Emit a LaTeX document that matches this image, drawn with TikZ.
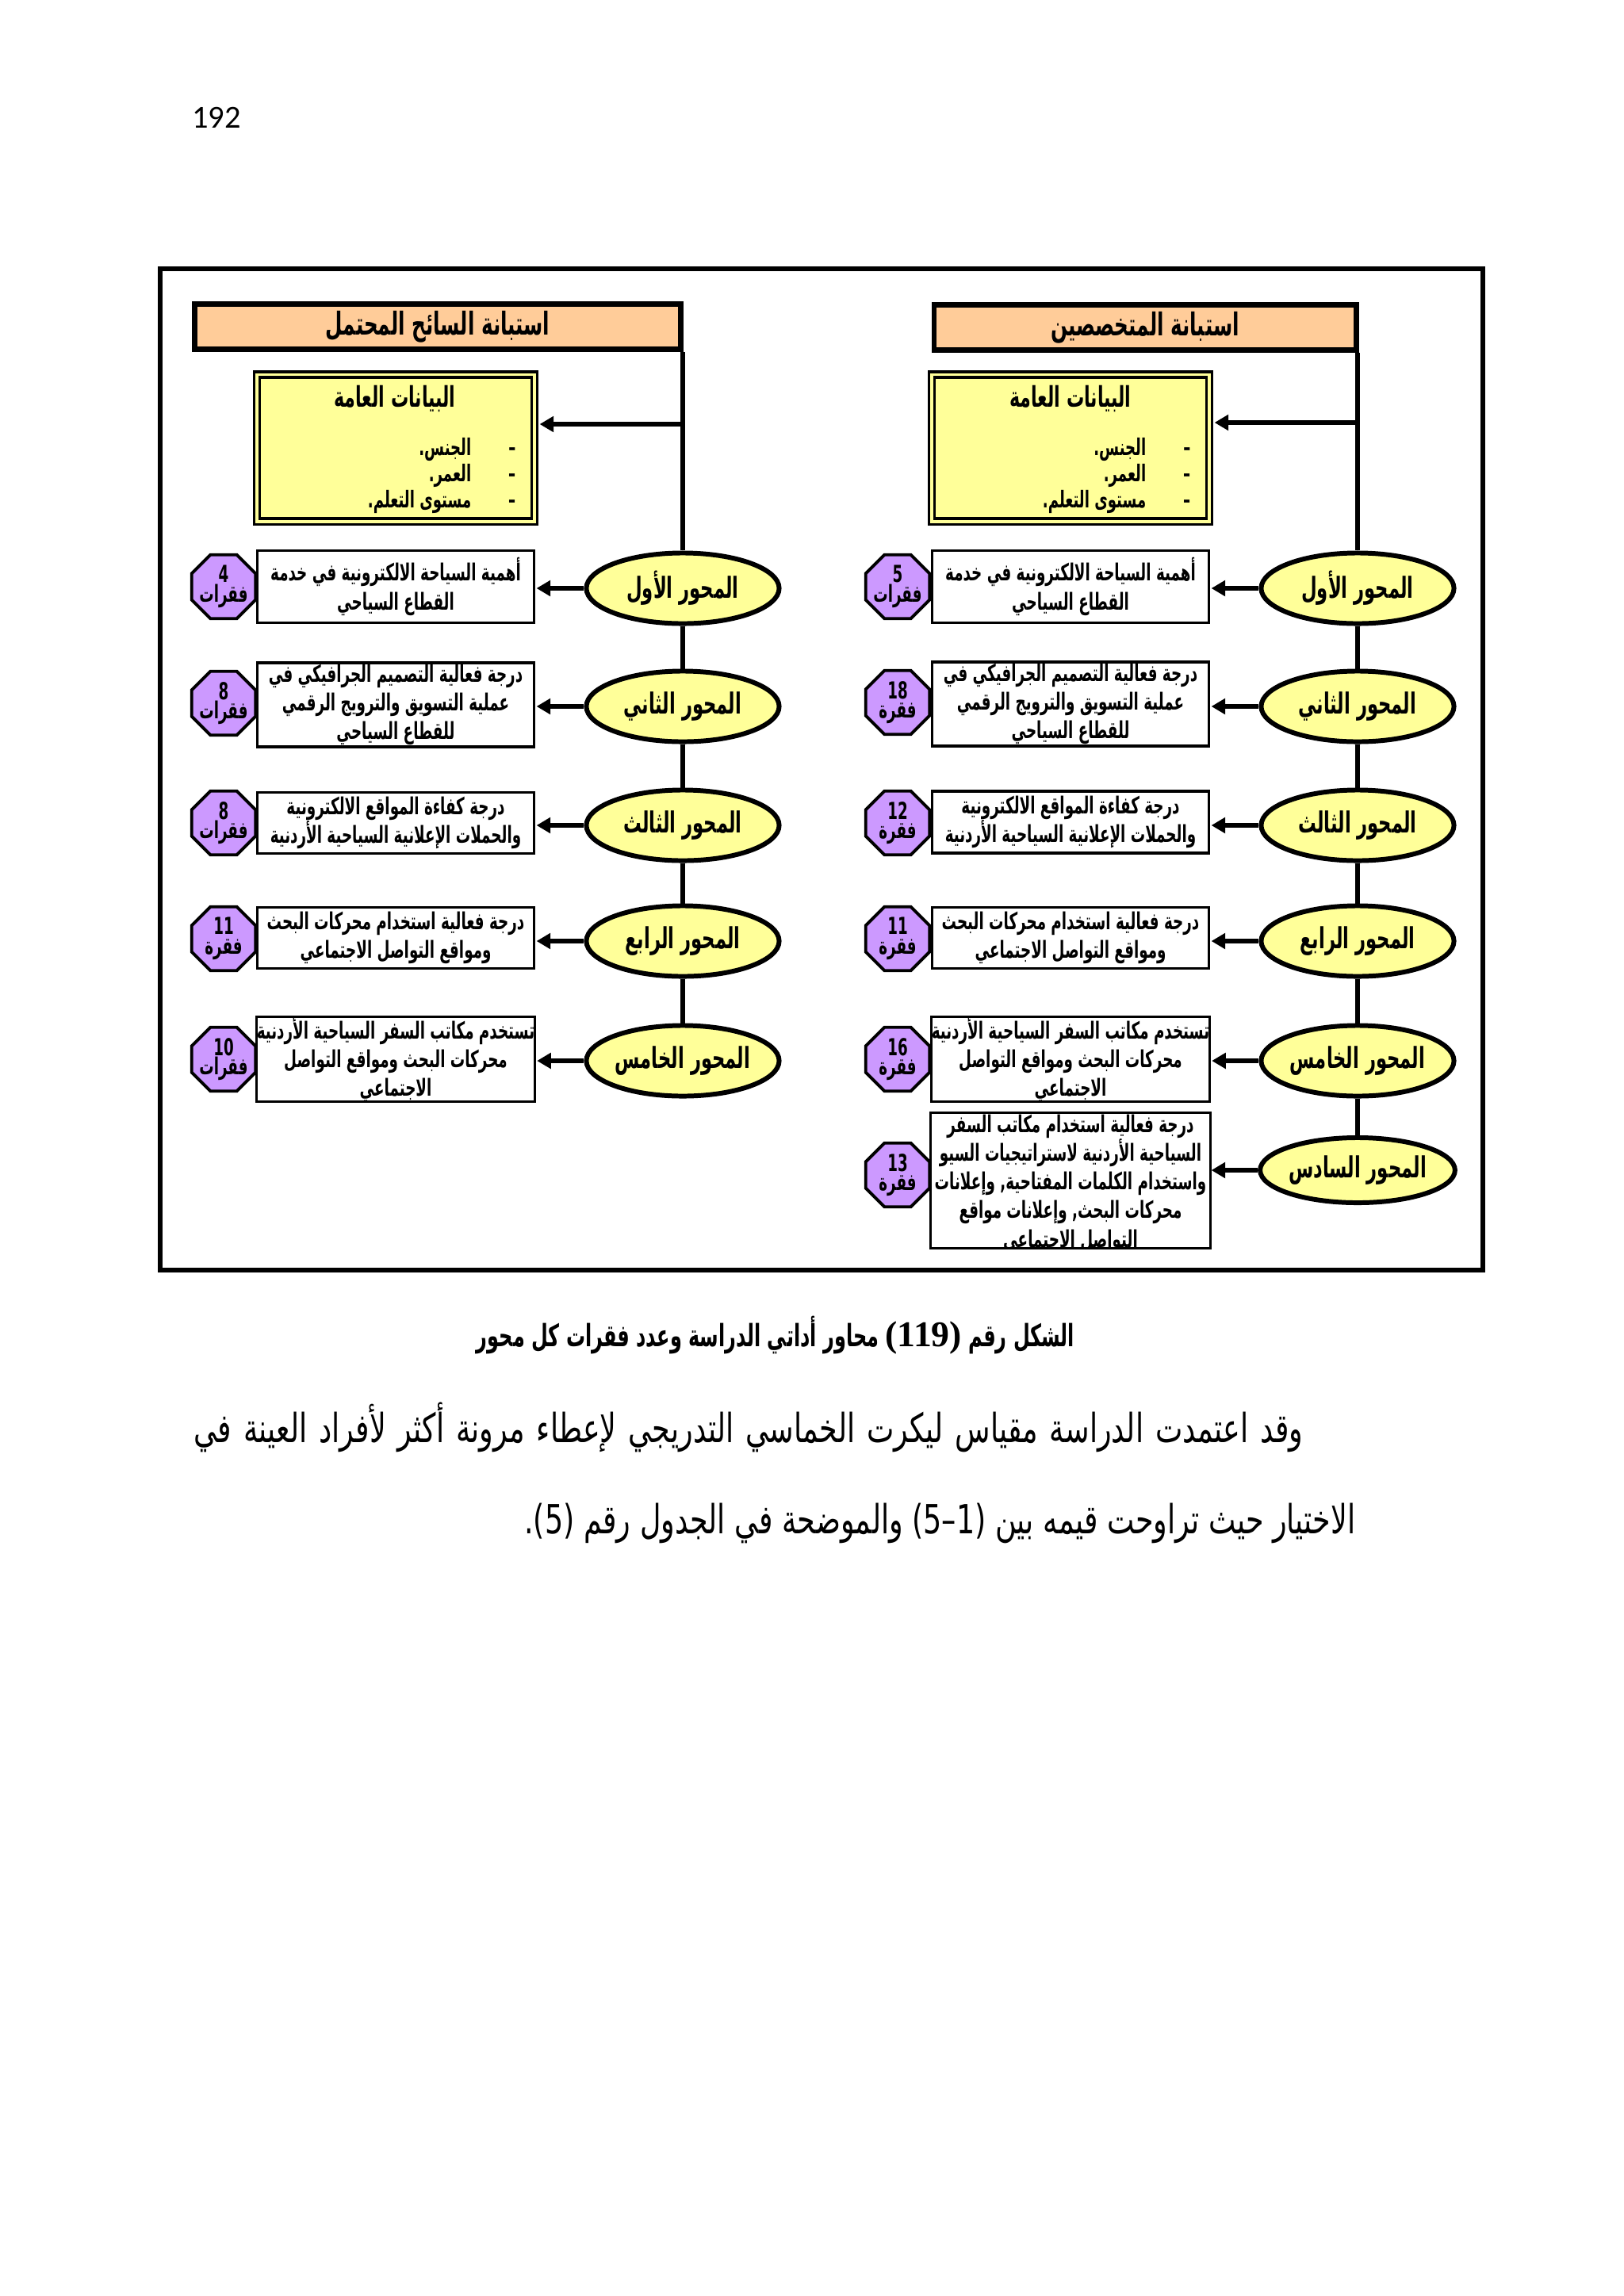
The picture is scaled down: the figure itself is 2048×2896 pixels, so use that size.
\documentclass[tikz,border=0pt]{standalone}
\usepackage{fontspec}
\usetikzlibrary{shapes.geometric,arrows.meta,positioning}
\TeXXeTstate=1
\newfontfamily\arabicfont[Script=Arabic,FakeStretch=0.72]{DejaVu Sans}
\newfontfamily\arabicnarrow[Script=Arabic,FakeStretch=0.62]{DejaVu Sans}
\newfontfamily\numfont{Liberation Serif}
\newfontfamily\pagefont{Carlito}
\newcommand{\artxt}[1]{\beginR#1\endR}

\definecolor{headpeach}{HTML}{FFCC99}
\definecolor{boxyellow}{HTML}{FFFF99}
\definecolor{octpurple}{HTML}{CC99FF}

\begin{document}
\begin{tikzpicture}[x=0.01cm, y=-0.01cm, >={Triangle[length=5pt,width=5.5pt]},
  head/.style={draw, line width=1.9pt, fill=headpeach, minimum height=0.57cm, inner sep=0pt,
    font=\arabicnarrow\bfseries\fontsize{11.3}{13}\selectfont},
  genbox/.style={draw, double=boxyellow, line width=0.9pt, double distance=1.1pt,
    fill=boxyellow, minimum width=3.5cm, minimum height=1.85cm, inner sep=0pt},
  gentitle/.style={inner sep=0pt, font=\arabicnarrow\bfseries\fontsize{10.2}{12}\selectfont},
  genitems/.style={inner sep=0pt, align=right, anchor=east,
    font=\arabicnarrow\bfseries\fontsize{8.3}{8}\selectfont},
  axisnode/.style={ellipse, draw, line width=1.7pt, fill=boxyellow, minimum width=2.43cm,
    minimum height=0.89cm, inner sep=0pt, font=\arabicnarrow\bfseries\fontsize{10.4}{12}\selectfont},
  topic/.style={draw, line width=0.9pt, fill=white, minimum width=3.49cm, inner sep=0pt,
    align=center, font=\arabicnarrow\bfseries\fontsize{8.4}{10.3}\selectfont},
  count/.style={regular polygon, regular polygon sides=8, draw, line width=1.1pt,
    fill=octpurple, minimum size=0.87cm, inner sep=-4pt, align=center,
    font=\arabicnarrow\bfseries\fontsize{8.4}{7}\selectfont},
  conn/.style={line width=1.5pt},
  arr/.style={conn, ->, shorten >=0.4pt}]

  %% Background
  \useasboundingbox (0,0) rectangle (2048,2896);
  \fill[white] (0,0) rectangle (2048,2896);

  % page number
  \node[font=\pagefont\fontsize{11.5}{13}\selectfont] (pnum) at (273,148) {192};

  % outer frame
  \draw[line width=1.7pt] (202,339) rectangle (1870,1602);

  % headers
  \node[head, minimum width=6.13cm] (hL) at (552,412) {\artxt{استبانة السائح المحتمل}};
  \node[head, minimum width=5.32cm] (hR) at (1444,413) {\artxt{استبانة المتخصصين}};

  % general data boxes
  \node[genbox] (gL) at (499,565) {};
  \node[gentitle] (gLt) at (498,503) {\artxt{البيانات العامة}};
  \node[genitems] (gLi) at (651,600) {\artxt{–\hspace{4.7mm}الجنس.}\\ \artxt{–\hspace{4.7mm}العمر.}\\ \artxt{–\hspace{4.7mm}مستوى التعلم.}};
  \node[genbox] (gR) at (1350,565) {};
  \node[gentitle] (gRt) at (1350,503) {\artxt{البيانات العامة}};
  \node[genitems] (gRi) at (1502,600) {\artxt{–\hspace{4.7mm}الجنس.}\\ \artxt{–\hspace{4.7mm}العمر.}\\ \artxt{–\hspace{4.7mm}مستوى التعلم.}};

  % left column: axes
  \node[axisnode] (eL1) at (861,742) {\artxt{المحور الأول}};
  \node[axisnode] (eL2) at (861,891) {\artxt{المحور الثاني}};
  \node[axisnode] (eL3) at (861,1041) {\artxt{المحور الثالث}};
  \node[axisnode] (eL4) at (861,1187) {\artxt{المحور الرابع}};
  \node[axisnode] (eL5) at (861,1338) {\artxt{المحور الخامس}};

  \node[topic, minimum height=0.91cm] (tL1) at (499,740) {\artxt{أهمية السياحة الالكترونية في خدمة}\\ \artxt{القطاع السياحي}};
  \node[topic, minimum height=1.06cm] (tL2) at (499,889) {\artxt{درجة فعالية التصميم الجرافيكي في}\\ \artxt{عملية التسويق والترويج الرقمي}\\ \artxt{للقطاع السياحي}};
  \node[topic, minimum height=0.77cm] (tL3) at (499,1038) {\artxt{درجة كفاءة المواقع الالكترونية}\\ \artxt{والحملات الإعلانية السياحية الأردنية}};
  \node[topic, minimum height=0.77cm] (tL4) at (499,1183) {\artxt{درجة فعالية استخدام محركات البحث}\\ \artxt{ومواقع التواصل الاجتماعي}};
  \node[topic, minimum height=1.03cm] (tL5) at (499,1336) {\artxt{تستخدم مكاتب السفر السياحية الأردنية}\\ \artxt{محركات البحث ومواقع التواصل}\\ \artxt{الاجتماعي}};

  \node[count] (cL1) at (282,740) {4\\ \artxt{فقرات}};
  \node[count] (cL2) at (282,887) {8\\ \artxt{فقرات}};
  \node[count] (cL3) at (282,1038) {8\\ \artxt{فقرات}};
  \node[count] (cL4) at (282,1184) {11\\ \artxt{فقرة}};
  \node[count] (cL5) at (282,1336) {10\\ \artxt{فقرات}};

  % right column: axes
  \node[axisnode] (eR1) at (1712,742) {\artxt{المحور الأول}};
  \node[axisnode] (eR2) at (1712,891) {\artxt{المحور الثاني}};
  \node[axisnode] (eR3) at (1712,1041) {\artxt{المحور الثالث}};
  \node[axisnode] (eR4) at (1712,1187) {\artxt{المحور الرابع}};
  \node[axisnode] (eR5) at (1712,1338) {\artxt{المحور الخامس}};
  \node[axisnode, minimum height=0.82cm] (eR6) at (1712,1476) {\artxt{المحور السادس}};

  \node[topic, minimum height=0.91cm] (tR1) at (1350,740) {\artxt{أهمية السياحة الالكترونية في خدمة}\\ \artxt{القطاع السياحي}};
  \node[topic, minimum height=1.06cm] (tR2) at (1350,888) {\artxt{درجة فعالية التصميم الجرافيكي في}\\ \artxt{عملية التسويق والترويج الرقمي}\\ \artxt{للقطاع السياحي}};
  \node[topic, minimum height=0.78cm] (tR3) at (1350,1037) {\artxt{درجة كفاءة المواقع الالكترونية}\\ \artxt{والحملات الإعلانية السياحية الأردنية}};
  \node[topic, minimum height=0.77cm] (tR4) at (1350,1183) {\artxt{درجة فعالية استخدام محركات البحث}\\ \artxt{ومواقع التواصل الاجتماعي}};
  \node[topic, minimum height=1.03cm] (tR5) at (1350,1336) {\artxt{تستخدم مكاتب السفر السياحية الأردنية}\\ \artxt{محركات البحث ومواقع التواصل}\\ \artxt{الاجتماعي}};
  \node[topic, draw=none, minimum height=1.68cm] (tR6) at (1350,1489) {};
  % last box: text runs past the bottom edge
  \begin{scope}
    \clip (tR6.south west) rectangle (tR6.north east);
    \node[topic, draw=none, fill=none] (tR6t) at (1350,1493) {\artxt{درجة فعالية استخدام مكاتب السفر}\\ \artxt{السياحية الأردنية لاستراتيجيات السيو}\\ \artxt{واستخدام الكلمات المفتاحية, وإعلانات}\\ \artxt{محركات البحث, وإعلانات مواقع}\\ \artxt{التواصل الاجتماعي}};
  \end{scope}
  \draw[line width=0.9pt] (tR6.south west) rectangle (tR6.north east);

  \node[count] (cR1) at (1132,740) {5\\ \artxt{فقرات}};
  \node[count] (cR2) at (1132,886) {18\\ \artxt{فقرة}};
  \node[count] (cR3) at (1132,1038) {12\\ \artxt{فقرة}};
  \node[count] (cR4) at (1132,1184) {11\\ \artxt{فقرة}};
  \node[count] (cR5) at (1132,1336) {16\\ \artxt{فقرة}};
  \node[count] (cR6) at (1132,1482) {13\\ \artxt{فقرة}};

  % spines
  \draw[conn] (hL.south -| eL1.north) -- (eL1.north);
  \draw[conn] (eL1) -- (eL2) -- (eL3) -- (eL4) -- (eL5);
  \draw[conn] (hR.south -| eR1.north) -- (eR1.north);
  \draw[conn] (eR1) -- (eR2) -- (eR3) -- (eR4) -- (eR5) -- (eR6);

  % arrows to the boxes
  \coordinate (aL) at (861,535);
  \coordinate (aR) at (1712,533);
  \draw[arr, shorten >=1.4pt] (aL) -- (aL -| gL.east);
  \draw[arr, shorten >=1.4pt] (aR) -- (aR -| gR.east);
  \draw[arr] (eL1.west) -- (eL1.west -| tL1.east);
  \draw[arr] (eL2.west) -- (eL2.west -| tL2.east);
  \draw[arr] (eL3.west) -- (eL3.west -| tL3.east);
  \draw[arr] (eL4.west) -- (eL4.west -| tL4.east);
  \draw[arr] (eL5.west) -- (eL5.west -| tL5.east);
  \draw[arr] (eR1.west) -- (eR1.west -| tR1.east);
  \draw[arr] (eR2.west) -- (eR2.west -| tR2.east);
  \draw[arr] (eR3.west) -- (eR3.west -| tR3.east);
  \draw[arr] (eR4.west) -- (eR4.west -| tR4.east);
  \draw[arr] (eR5.west) -- (eR5.west -| tR5.east);
  \draw[arr] (eR6.west) -- (eR6.west -| tR6.east);

  % caption and text below
  \node[font=\arabicnarrow\bfseries\fontsize{11}{13}\selectfont] (cap) at (978,1684) {\artxt{الشكل رقم {\numfont\bfseries\fontsize{13}{13}\selectfont(119)} محاور أداتي الدراسة وعدد فقرات كل محور}};
  \node[font=\arabicfont\fontsize{14.4}{18}\selectfont, inner sep=0pt, anchor=east] (body1) at (1644,1800) {\makebox[13.98cm][s]{\artxt{وقد اعتمدت الدراسة مقياس ليكرت الخماسي التدريجي لإعطاء مرونة أكثر لأفراد العينة في}}};
  \node[font=\arabicfont\fontsize{14.4}{18}\selectfont, inner sep=0pt, anchor=east] (body2) at (1710,1921) {\artxt{الاختيار حيث تراوحت قيمه بين (1–5) والموضحة في الجدول رقم (5).}};

\end{tikzpicture}
\end{document}
